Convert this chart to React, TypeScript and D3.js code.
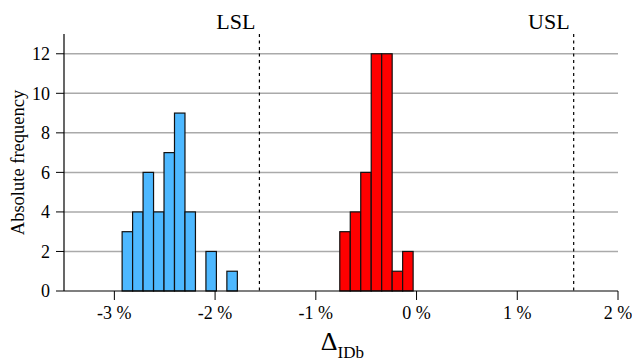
import React from 'react'
import { scaleLinear } from 'd3'

// histogram bins (lower edge in %, width in %) and counts
const binWidth = 0.104
const blueBins = [-2.923, -2.819, -2.715, -2.611, -2.507, -2.403, -2.299, -2.091, -1.883]
const blueCounts = [3, 4, 6, 4, 7, 9, 4, 2, 1]
const redBins = [-0.762, -0.658, -0.554, -0.45, -0.346, -0.242, -0.138]
const redCounts = [3, 4, 6, 12, 12, 1, 2]

const xTicks = [-3, -2, -1, 0, 1, 2]
const yTicks = [0, 2, 4, 6, 8, 10, 12]
const limits = [
    { name: 'LSL', value: -1.56 },
    { name: 'USL', value: 1.56 },
]

const W = 632, H = 361
const margin = { top: 34, right: 14, bottom: 70, left: 64 }
const font = 'Liberation Serif'

const App = () => {
    const x = scaleLinear().domain([-3.5, 2]).range([margin.left, W - margin.right])
    const y = scaleLinear().domain([0, 13]).range([H - margin.bottom, margin.top])
    const x0 = x.range()[0], x1 = x.range()[1]
    const y0 = y(0)

    const bars = (bins: number[], counts: number[], color: string) =>
        bins.map((b, i) => (
            <rect key={color + i}
                x={x(b)} y={y(counts[i])}
                width={x(b + binWidth) - x(b)} height={y0 - y(counts[i])}
                fill={color} stroke="#111" strokeWidth={1.2} />
        ))

    return (
        <svg width={W} height={H} style={{ position: 'absolute', left: 0, top: 0 }}>
            {/* grid */}
            {yTicks.filter(t => t > 0).map(t => (
                <line key={'g' + t} x1={x0} x2={x1} y1={y(t)} y2={y(t)} stroke="#aaa" strokeWidth={1.5} />
            ))}

            {bars(blueBins, blueCounts, '#4db8ff')}
            {bars(redBins, redCounts, '#ff0000')}

            {/* spec limits */}
            {limits.map(l => (
                <g key={l.name}>
                    <line x1={x(l.value)} x2={x(l.value)} y1={y(13)} y2={y0}
                        stroke="#000" strokeWidth={1.2} strokeDasharray="3,3.5" />
                    <text x={x(l.value) - 4} y={29} textAnchor="end" fontSize={22} fontFamily={font}>{l.name}</text>
                </g>
            ))}

            {/* axes */}
            <line x1={x0} x2={x0} y1={y(13)} y2={y0} stroke="#000" strokeWidth={1.2} />
            <line x1={x0} x2={x1} y1={y0} y2={y0} stroke="#000" strokeWidth={1.2} />
            {yTicks.map(t => (
                <g key={'y' + t}>
                    <line x1={x0 - 8} x2={x0} y1={y(t)} y2={y(t)} stroke="#000" strokeWidth={1} />
                    <text x={x0 - 14} y={y(t)} dy="0.35em" textAnchor="end" fontSize={18} fontFamily={font}>{t}</text>
                </g>
            ))}
            {xTicks.map(t => (
                <g key={'x' + t}>
                    <line x1={x(t)} x2={x(t)} y1={y0} y2={y0 + 9} stroke="#000" strokeWidth={1} />
                    <text x={x(t)} y={y0 + 28} textAnchor="middle" fontSize={18} fontFamily={font}>{t} %</text>
                </g>
            ))}

            <text transform={`translate(24,${(y(13) + y0) / 2}) rotate(-90)`} textAnchor="middle"
                fontSize={18.5} fontFamily={font}>
                Absolute frequency
            </text>
            <text x={x(-0.95)} y={350} fontSize={26} fontFamily={font}>
                Δ<tspan fontSize={17} dy={8}>IDb</tspan>
            </text>
        </svg>
    )
}

export default App
